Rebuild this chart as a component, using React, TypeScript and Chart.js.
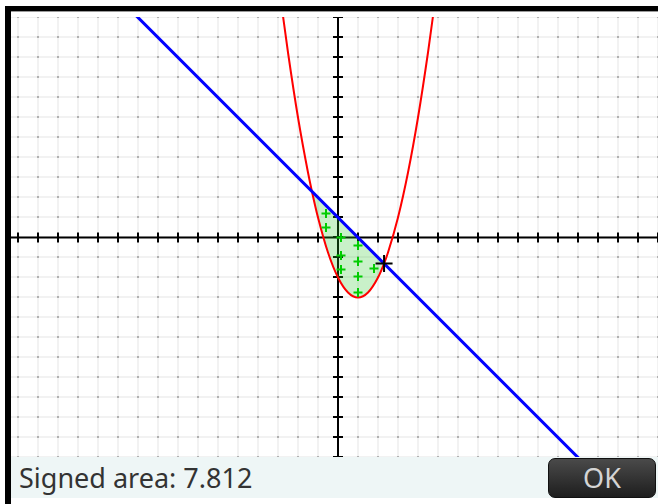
import React, { useEffect, useRef } from "react";
import { Chart, registerables } from "chart.js";

Chart.register(...registerables);

// Parabola y = x^2 - 2x - 2
const parabolaX = [-2.8, -2.5, -2, -1.5, -1.303, -1, -0.5, 0, 0.5, 1, 1.5, 2, 2.303, 2.5, 3, 3.5, 4, 4.5, 4.8];
const parabolaY = [11.44, 9.25, 6, 3.25, 2.303, 1, -0.75, -2, -2.75, -3, -2.75, -2, -1.303, -0.75, 1, 3.25, 6, 9.25, 11.44];

// Straight line y = 1 - x
const lineX = [-12, 13];
const lineY = [13, -12];

// Shaded region between the two intersections
const regionTopX = [-1.303, 2.303];
const regionTopY = [2.303, -1.303];
const regionBottomX = [-1.303, -1, -0.5, 0, 0.5, 1, 1.5, 2, 2.303];
const regionBottomY = [2.303, 1, -0.75, -2, -2.75, -3, -2.75, -2, -1.303];

// Green "+" marks inside the region
const plusX = [-0.6, -0.6, 0.15, 0.15, 0.15, 1.0, 1.0, 1.0, 1.0, 1.8];
const plusY = [1.2, 0.5, 0.0, -0.9, -1.6, -0.4, -1.2, -1.95, -2.75, -1.55];

// Cursor at the right intersection
const cursorX = [2.303];
const cursorY = [-1.303];

const xMin = -16.35;
const xMax = 16.0;
const yMin = -10.975;
const yMax = 11.025;

const signedAreaLabel = "Signed area: 7.812";
const okLabel = "OK";

const zip = (xs: number[], ys: number[]) => xs.map((x, i) => ({ x, y: ys[i] }));

const axesPlugin = {
  id: "calcAxes",
  beforeDatasetsDraw(chart: any) {
    const { ctx, chartArea, scales } = chart;
    const xs = scales.x;
    const ys = scales.y;
    ctx.save();
    // grid intersection dots
    ctx.fillStyle = "#b0b0b0";
    for (const tx of xs.ticks) {
      const px = Math.round(xs.getPixelForValue(tx.value));
      for (const ty of ys.ticks) {
        const py = Math.round(ys.getPixelForValue(ty.value));
        ctx.fillRect(px - 1, py - 1, 2, 2);
      }
    }
    const x0 = Math.round(xs.getPixelForValue(0));
    const y0 = ys.getPixelForValue(0);
    ctx.strokeStyle = "#000";
    ctx.lineWidth = 2;
    ctx.beginPath();
    ctx.moveTo(chartArea.left, y0);
    ctx.lineTo(chartArea.right, y0);
    ctx.moveTo(x0, chartArea.top);
    ctx.lineTo(x0, chartArea.bottom);
    for (const tx of xs.ticks) {
      const px = Math.round(xs.getPixelForValue(tx.value));
      ctx.moveTo(px, y0 - 5);
      ctx.lineTo(px, y0 + 5);
    }
    for (const ty of ys.ticks) {
      const py = ys.getPixelForValue(ty.value);
      ctx.moveTo(x0 - 5, py);
      ctx.lineTo(x0 + 5, py);
    }
    ctx.stroke();
    ctx.restore();
  },
};

export default function App() {
  const canvasRef = useRef<HTMLCanvasElement | null>(null);

  useEffect(() => {
    if (!canvasRef.current) return;
    const chart = new Chart(canvasRef.current, {
      type: "line",
      data: {
        datasets: [
          {
            data: zip(regionTopX, regionTopY),
            borderWidth: 0,
            pointRadius: 0,
            fill: "+1",
            backgroundColor: "rgba(40,200,40,0.25)",
            order: 10,
          },
          {
            data: zip(regionBottomX, regionBottomY),
            borderWidth: 0,
            pointRadius: 0,
            cubicInterpolationMode: "monotone",
            fill: false,
            order: 11,
          },
          {
            data: zip(parabolaX, parabolaY),
            borderColor: "#ff0000",
            borderWidth: 2,
            pointRadius: 0,
            cubicInterpolationMode: "monotone",
            fill: false,
            order: 5,
          },
          {
            data: zip(lineX, lineY),
            borderColor: "#0000ff",
            borderWidth: 3,
            pointRadius: 0,
            fill: false,
            order: 4,
          },
          {
            data: zip(plusX, plusY),
            showLine: false,
            pointStyle: "cross",
            pointRadius: 4.5,
            pointBorderWidth: 2,
            pointBorderColor: "#00cc00",
            borderColor: "#00cc00",
            fill: false,
            order: 3,
          },
          {
            data: zip(cursorX, cursorY),
            showLine: false,
            pointStyle: "cross",
            pointRadius: 8.5,
            pointBorderWidth: 2,
            pointBorderColor: "#000",
            borderColor: "#000",
            fill: false,
            order: 1,
          },
        ] as any,
      },
      options: {
        animation: false,
        responsive: false,
        maintainAspectRatio: false,
        devicePixelRatio: 1,
        layout: { padding: 0, autoPadding: false },
        plugins: { legend: { display: false }, tooltip: { enabled: false }, title: { display: false } },
        events: [],
        scales: {
          x: {
            type: "linear",
            min: xMin,
            max: xMax,
            ticks: { display: false, stepSize: 1, includeBounds: false },
            grid: { color: "#f2f2f2", lineWidth: 2, drawTicks: false },
            border: { display: false },
          },
          y: {
            type: "linear",
            min: yMin,
            max: yMax,
            ticks: { display: false, stepSize: 1, includeBounds: false },
            grid: { color: "#f2f2f2", lineWidth: 2, drawTicks: false },
            border: { display: false },
          },
        },
      } as any,
      plugins: [axesPlugin],
    });
    return () => chart.destroy();
  }, []);

  return (
    <div style={{ position: "absolute", left: 0, top: 0, width: 658, height: 504, background: "#fff", overflow: "hidden" }}>
      <div style={{ position: "absolute", left: 5, top: 6, width: 653, height: 5, background: "#000" }} />
      <div style={{ position: "absolute", left: 5, top: 6, width: 6, height: 498, background: "#000" }} />
      <div style={{ position: "absolute", left: 11, top: 11, width: 647, height: 1, background: "#9a9a9a" }} />
      <canvas
        ref={canvasRef}
        width={647}
        height={440}
        style={{ position: "absolute", left: 11, top: 17, width: 647, height: 440 }}
      />
      <div
        style={{
          position: "absolute",
          left: 11,
          top: 457,
          width: 647,
          height: 41,
          background: "#eef6f6",
          fontFamily: "'Noto Sans', 'Open Sans', sans-serif",
        }}
      >
        <div
          style={{
            position: "absolute",
            left: 8,
            top: 0,
            height: 41,
            lineHeight: "41px",
            fontSize: 27,
            color: "#333",
            whiteSpace: "nowrap",
          }}
        >
          {signedAreaLabel}
        </div>
        <div
          style={{
            position: "absolute",
            left: 537,
            top: 1,
            width: 106,
            height: 38,
            borderRadius: 7,
            border: "1px solid #111",
            background: "linear-gradient(#4a4a4a, #1e1e1e)",
            color: "#d4d4d4",
            fontSize: 27,
            lineHeight: "38px",
            textAlign: "center",
          }}
        >
          {okLabel}
        </div>
      </div>
    </div>
  );
}
